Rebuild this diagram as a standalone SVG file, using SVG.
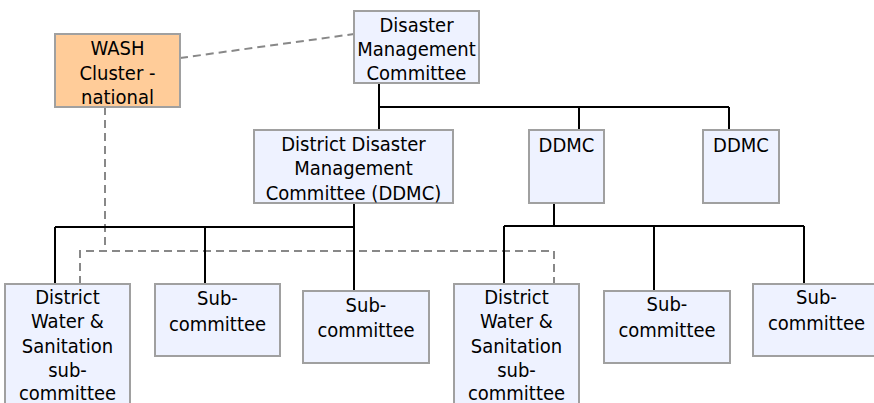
<svg xmlns="http://www.w3.org/2000/svg" width="874" height="403" viewBox="0 0 874 403">
<style>
.box{fill:#EEF2FF;stroke:#A0A0A0;stroke-width:2}
.wash{fill:#FFCC99;stroke:#A0A0A0;stroke-width:2}
text{font-family:"DejaVu Sans Condensed","DejaVu Sans",sans-serif;font-size:20px;fill:#000;text-anchor:middle}
.solid{fill:none;stroke:#000;stroke-width:2}
.dash{fill:none;stroke:#888;stroke-width:2;stroke-dasharray:8,5}
</style>
<rect width="874" height="403" fill="#fff"/>
<g id="connectors">
<path class="dash" d="M180,58 L354,34"/>
<path class="dash" d="M105,107 V251 M80,284 V251 H554 V284"/>
<path class="solid" d="M379,83 V107 M379,107 H729 M379,107 V130 M579,107 V130 M729,107 V130"/>
<path class="solid" d="M354,203 V227 M55,227 H354 M55,227 V284 M205,227 V284 M354,227 V291"/>
<path class="solid" d="M554,203 V226 M504,226 H804 M504,226 V284 M654,226 V291 M804,226 V284"/>
</g>
<g id="wash">
<rect class="wash" x="55" y="34" width="125" height="73"/>
<text x="117.5" y="55">WASH</text>
<text x="117.5" y="80">Cluster -</text>
<text x="117.5" y="104">national</text>
</g>
<g id="dmc">
<rect class="box" x="354" y="11" width="125" height="72"/>
<text x="416.5" y="31.5">Disaster</text>
<text x="416.5" y="56">Management</text>
<text x="416.5" y="80">Committee</text>
</g>
<g id="ddmc-main">
<rect class="box" x="254" y="130" width="199" height="73"/>
<text x="353.5" y="151">District Disaster</text>
<text x="353.5" y="175">Management</text>
<text x="353.5" y="199.5">Committee (DDMC)</text>
</g>
<g id="ddmc2">
<rect class="box" x="529" y="130" width="75" height="73"/>
<text x="566.5" y="152">DDMC</text>
</g>
<g id="ddmc3">
<rect class="box" x="703" y="130" width="76" height="73"/>
<text x="741" y="152">DDMC</text>
</g>
<g id="dws1">
<rect class="box" x="5" y="284" width="125" height="130"/>
<text x="67.5" y="303.5">District</text>
<text x="67.5" y="328">Water &amp;</text>
<text x="67.5" y="352.5">Sanitation</text>
<text x="67.5" y="376.5">sub-</text>
<text x="67.5" y="400">committee</text>
</g>
<g id="sub1">
<rect class="box" x="155" y="284" width="125" height="72"/>
<text x="217.5" y="305">Sub-</text>
<text x="217.5" y="330.5">committee</text>
</g>
<g id="sub2">
<rect class="box" x="303" y="291" width="126" height="72"/>
<text x="366" y="311.5">Sub-</text>
<text x="366" y="337">committee</text>
</g>
<g id="dws2">
<rect class="box" x="454" y="284" width="125" height="130"/>
<text x="516.5" y="303.5">District</text>
<text x="516.5" y="328">Water &amp;</text>
<text x="516.5" y="352.5">Sanitation</text>
<text x="516.5" y="376.5">sub-</text>
<text x="516.5" y="400">committee</text>
</g>
<g id="sub3">
<rect class="box" x="604" y="291" width="126" height="72"/>
<text x="667" y="310.5">Sub-</text>
<text x="667" y="336.5">committee</text>
</g>
<g id="sub4">
<rect class="box" x="753" y="284" width="127" height="72"/>
<text x="816.5" y="303.5">Sub-</text>
<text x="816.5" y="330">committee</text>
</g>
</svg>
